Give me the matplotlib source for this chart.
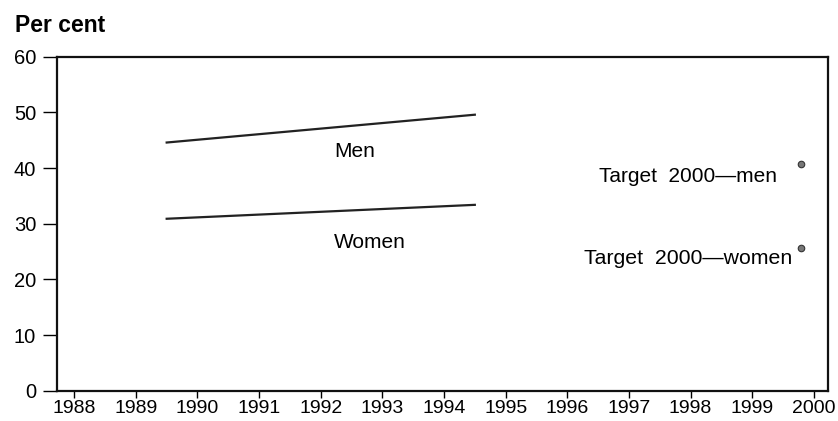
import matplotlib.pyplot as plt

# data
years = [1989.5, 1994.5]
men = [44.6, 49.6]
women = [30.9, 33.4]
target_year = 1999.8
target_men = 40.7
target_women = 25.6
tick_years = list(range(1988, 2001))
y_ticks = [0, 10, 20, 30, 40, 50, 60]

plt.rcParams['font.family'] = ['Liberation Sans', 'DejaVu Sans']

fig = plt.figure(figsize=(8.38, 4.21), dpi=100)
ax = fig.add_axes([0.068, 0.072, 0.920, 0.793])

ax.plot(years, men, color='#222222', lw=1.6)
ax.plot(years, women, color='#222222', lw=1.6)

# target points
ax.scatter([target_year, target_year], [target_men, target_women],
           s=22, color='#777777', edgecolor='#333333', linewidth=0.8, zorder=3)

ax.text(1992.55, 43.0, 'Men', fontsize=15, ha='center', va='center')
ax.text(1992.8, 26.7, 'Women', fontsize=15, ha='center', va='center')
ax.text(1999.41, 38.5, 'Target  2000\u2014men', fontsize=15, ha='right', va='center')
ax.text(1999.65, 23.7, 'Target  2000\u2014women', fontsize=15.3, ha='right', va='center')

ax.set_xlim(1987.72, 2000.23)
ax.set_ylim(0, 60)
ax.set_xticks(tick_years)
ax.set_xticklabels([str(y) for y in tick_years])
ax.set_yticks(y_ticks)

ax.tick_params(axis='y', direction='out', length=10, width=1.0, labelsize=14.5, pad=5)
ax.tick_params(axis='x', direction='out', length=5, width=1.0, labelsize=14, pad=2)
for sp in ax.spines.values():
    sp.set_linewidth(1.6)
    sp.set_color('#111111')

fig.text(0.018, 0.924, 'Per cent', fontsize=16.5, fontweight='bold', ha='left', va='baseline')

fig.savefig('out.png', dpi=100)
